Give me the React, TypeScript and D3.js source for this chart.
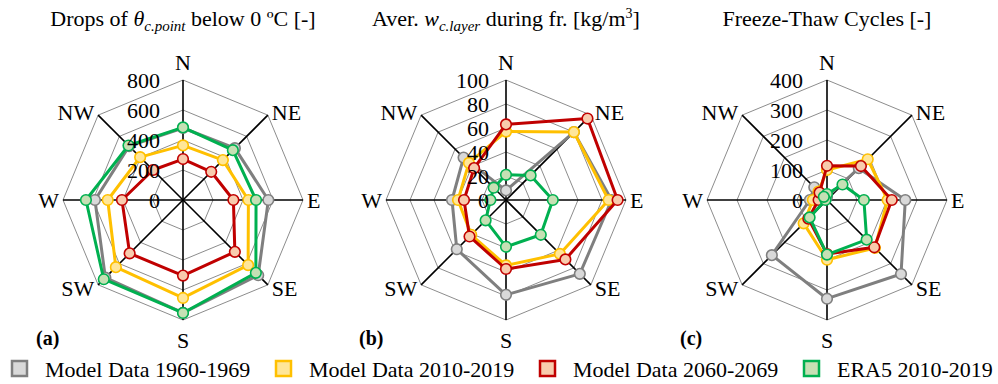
import React from "react";
import * as d3 from "d3";

const directions = ["N", "NE", "E", "SE", "S", "SW", "W", "NW"];
const seriesNames = ["Model Data 1960-1969", "Model Data 2010-2019", "Model Data 2060-2069", "ERA5 2010-2019"];
const seriesStroke = ["#7f7f7f", "#ffc000", "#c00000", "#00b050"];
const seriesFill = ["#d9d9d9", "#ffe699", "#f8cbad", "#c6e0b4"];

// Panel (a): Drops of theta below 0 °C
const dropsGray = [480, 489, 569, 709, 752, 732, 587, 508];
const dropsYellow = [364, 376, 436, 614, 653, 633, 502, 404];
const dropsRed = [273, 266, 336, 489, 504, 503, 407, 283];
const dropsGreen = [484, 470, 487, 687, 753, 747, 647, 514];
const dropsTicks = [0, 200, 400, 600, 800];

// Panel (b): Average water content during freezing
const waterGray = [8, 80, 88, 87, 79, 58, 45, 50];
const waterYellow = [57, 80, 85.5, 63.5, 54.5, 41, 40, 43.7];
const waterRed = [63, 96, 93, 70, 57.5, 43, 35, 37.6];
const waterGreen = [21, 29, 39, 41, 39, 24, 13, 14.5];
const waterTicks = [0, 20, 40, 60, 80, 100];

// Panel (c): Freeze-thaw cycles
const ftcGray = [10, 150, 261, 349, 329, 260, 57, 60];
const ftcYellow = [100, 192, 202, 226, 199, 110, 47, 40];
const ftcRed = [114, 160, 216, 223, 180, 88, 28, 35];
const ftcGreen = [20, 73, 123, 187, 182, 82, 5, 15];
const ftcTicks = [0, 100, 200, 300, 400];

const panelLetters = ["(a)", "(b)", "(c)"];

const FONT = "'Liberation Serif', 'Times New Roman', serif";
const R = 120;
const CY = 200;

type Panel = {
  cx: number;
  ticks: number[];
  series: number[][];
  tickRight: number;
  title: React.ReactNode;
  letter: string;
};

const panels: Panel[] = [
  {
    cx: 183,
    ticks: dropsTicks,
    series: [dropsGray, dropsYellow, dropsRed, dropsGreen],
    tickRight: 23,
    letter: panelLetters[0],
    title: (
      <>
        <tspan>Drops of </tspan>
        <tspan fontStyle="italic">θ</tspan>
        <tspan fontStyle="italic" fontSize={15} dy={5}>c.point</tspan>
        <tspan dy={-5}> below 0 ºC [-]</tspan>
      </>
    ),
  },
  {
    cx: 506,
    ticks: waterTicks,
    series: [waterGray, waterYellow, waterRed, waterGreen],
    tickRight: 17,
    letter: panelLetters[1],
    title: (
      <>
        <tspan>Aver. </tspan>
        <tspan fontStyle="italic">w</tspan>
        <tspan fontStyle="italic" fontSize={15} dy={5}>c.layer</tspan>
        <tspan dy={-5}> during fr. [kg/m</tspan>
        <tspan fontSize={14} dy={-8}>3</tspan>
        <tspan dy={8}>]</tspan>
      </>
    ),
  },
  {
    cx: 827,
    ticks: ftcTicks,
    series: [ftcGray, ftcYellow, ftcRed, ftcGreen],
    tickRight: 24,
    letter: panelLetters[2],
    title: <tspan>Freeze-Thaw Cycles [-]</tspan>,
  },
];

const angleOf = (i: number) => (i * 2 * Math.PI) / directions.length;

function Radar({ p }: { p: Panel }) {
  const maxV = p.ticks[p.ticks.length - 1];
  const r = d3.scaleLinear().domain([0, maxV]).range([0, R]);
  const line = d3
    .lineRadial<number>()
    .angle((_, i) => angleOf(i))
    .radius((d) => r(d))
    .curve(d3.curveLinearClosed);
  const ringLine = d3
    .lineRadial<number>()
    .angle((_, i) => angleOf(i))
    .radius((d) => d)
    .curve(d3.curveLinearClosed);

  const labelPos = (i: number) => {
    const a = angleOf(i);
    const s = Math.sin(a);
    const c = Math.cos(a);
    const vx = R * s;
    const vy = -R * c;
    let anchor: "start" | "end" | "middle" = "middle";
    let x = vx;
    let y = vy;
    if (s > 0.1) {
      anchor = "start";
      x = vx + 4;
    } else if (s < -0.1) {
      anchor = "end";
      x = vx - 4;
    }
    if (Math.abs(s) < 0.1) {
      y = c > 0 ? vy - 10 : vy + 28;
    } else if (Math.abs(c) < 0.1) {
      y = vy + 7.5;
    } else if (c > 0) {
      y = vy + 5;
    } else {
      y = vy + 11;
    }
    return { x, y, anchor };
  };

  return (
    <g transform={`translate(${p.cx},${CY})`}>
      <text x={0} y={26 - CY} textAnchor="middle" fontSize={22} fontFamily={FONT} fill="#000">
        {p.title}
      </text>
      {p.ticks.slice(1).map((t) => (
        <path
          key={t}
          d={ringLine(directions.map(() => r(t))) || ""}
          fill="none"
          stroke="#6e6e6e"
          strokeWidth={0.8}
        />
      ))}
      {directions.map((d, i) => {
        const a = angleOf(i);
        return (
          <line
            key={d}
            x1={0}
            y1={0}
            x2={R * Math.sin(a)}
            y2={-R * Math.cos(a)}
            stroke="#000"
            strokeWidth={1.6}
          />
        );
      })}
      {p.series.map((vals, si) => (
        <g key={si}>
          <path d={line(vals) || ""} fill="none" stroke={seriesStroke[si]} strokeWidth={3} strokeLinejoin="round" />
          {vals.map((v, i) => {
            const a = angleOf(i);
            return (
              <circle
                key={i}
                cx={r(v) * Math.sin(a)}
                cy={-r(v) * Math.cos(a)}
                r={5.3}
                fill={seriesFill[si]}
                stroke={seriesStroke[si]}
                strokeWidth={1.6}
              />
            );
          })}
        </g>
      ))}
      {p.ticks.map((t) => (
        <text
          key={t}
          x={-p.tickRight}
          y={-r(t) + 7.5}
          textAnchor="end"
          fontSize={22}
          fontFamily={FONT}
          fill="#000"
        >
          {t}
        </text>
      ))}
      {directions.map((d, i) => {
        const lp = labelPos(i);
        return (
          <text key={d} x={lp.x} y={lp.y} textAnchor={lp.anchor} fontSize={22} fontFamily={FONT} fill="#000">
            {d}
          </text>
        );
      })}
      <text x={-147} y={345} fontSize={20} fontWeight="bold" fontFamily={FONT} fill="#000" transform={`translate(0,${-CY})`}>
        {p.letter}
      </text>
    </g>
  );
}

export default function App() {
  return (
    <div style={{ position: "fixed", left: 0, top: 0 }}>
      <svg width={998} height={384} viewBox="0 0 998 384" style={{ display: "block", background: "#fff" }}>
        <rect width={998} height={384} fill="#fff" />
        {panels.map((p, i) => (
          <Radar key={i} p={p} />
        ))}
        {seriesNames.map((name, i) => (
          <g key={name} transform={`translate(${12 + i * 264},0)`}>
            <rect x={0} y={361} width={15} height={15} fill={seriesFill[i]} stroke={seriesStroke[i]} strokeWidth={2.5} />
            <text x={33} y={377} fontSize={22} fontFamily={FONT} fill="#000">
              {name}
            </text>
          </g>
        ))}
      </svg>
    </div>
  );
}
